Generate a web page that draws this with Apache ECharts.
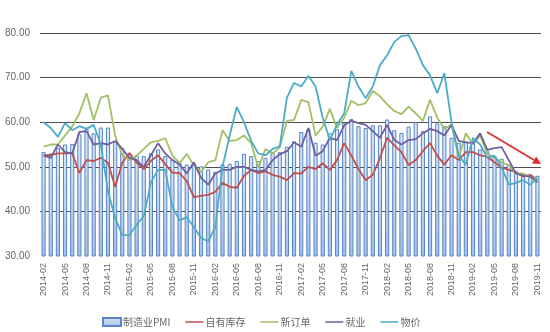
<!DOCTYPE html>
<html>
<head>
<meta charset="utf-8">
<script src="https://cdn.jsdelivr.net/npm/echarts@6/dist/echarts.min.js"></script>
<style>
html,body{margin:0;padding:0;background:#fff;}
#c{width:550px;height:332px;}
</style>
</head>
<body>
<div id="c"></div>
<script>
var months = [
 '2014-02','2014-03','2014-04','2014-05','2014-06','2014-07','2014-08','2014-09','2014-10','2014-11','2014-12',
 '2015-01','2015-02','2015-03','2015-04','2015-05','2015-06','2015-07','2015-08','2015-09','2015-10','2015-11','2015-12',
 '2016-01','2016-02','2016-03','2016-04','2016-05','2016-06','2016-07','2016-08','2016-09','2016-10','2016-11','2016-12',
 '2017-01','2017-02','2017-03','2017-04','2017-05','2017-06','2017-07','2017-08','2017-09','2017-10','2017-11','2017-12',
 '2018-01','2018-02','2018-03','2018-04','2018-05','2018-06','2018-07','2018-08','2018-09','2018-10','2018-11','2018-12',
 '2019-01','2019-02','2019-03','2019-04','2019-05','2019-06','2019-07','2019-08','2019-09','2019-10','2019-11'
];

var pmi = [
 53.3,53.0,54.2,55.0,55.1,57.3,58.5,57.5,58.8,58.8,55.7,
 54.2,52.9,52.6,52.4,53.1,53.9,52.4,51.6,50.9,50.5,50.7,50.1,
 49.4,48.9,50.5,50.7,51.3,52.9,52.4,51.3,52.0,53.1,53.3,54.5,
 55.7,57.8,58.4,55.4,55.0,57.5,58.4,59.9,60.7,59.1,58.7,59.3,
 59.3,60.6,58.2,57.6,59.0,60.0,58.0,61.3,59.7,59.1,56.5,55.4,
 55.7,55.4,53.9,53.5,52.4,51.8,50.5,49.0,48.5,48.2,48.0
];

var inventory = [
 52.6,52.6,53.0,53.0,53.0,48.6,51.5,51.3,52.0,50.9,45.5,
 50.9,53.1,50.9,49.5,51.3,52.6,50.6,48.7,48.6,46.8,43.2,43.5,
 43.7,44.4,46.4,45.5,45.3,48.0,49.3,48.6,49.0,48.2,47.8,47.0,
 48.6,48.5,50.0,49.5,50.8,49.3,51.5,55.3,52.5,49.5,47.0,48.2,
 52.0,56.5,54.8,53.3,50.4,51.5,53.5,55.3,52.5,50.5,52.6,51.5,
 53.3,53.3,52.6,52.2,51.0,49.8,49.3,48.8,47.8,48.2,47.0
];

var newOrders = [
 54.5,55.0,55.0,57.0,59.0,62.0,66.5,60.5,65.5,66.0,57.0,
 52.6,51.5,52.5,54.0,55.5,55.8,56.4,52.5,50.8,52.9,50.3,48.8,
 51.0,51.5,58.2,55.8,56.0,57.0,55.3,49.8,54.0,53.0,54.3,60.3,
 60.5,65.0,64.5,57.0,59.0,63.0,58.7,61.0,64.8,63.8,64.3,67.0,
 65.8,64.0,62.5,61.8,63.5,62.0,60.3,65.0,61.0,58.5,59.5,52.0,
 57.5,55.0,57.0,53.0,52.0,51.0,50.4,48.6,48.5,47.7,47.0
];

var employment = [
 52.5,52.0,55.0,53.3,53.0,57.8,58.0,55.0,55.3,55.0,55.8,
 54.0,52.0,51.5,50.0,52.6,55.3,53.0,51.5,50.5,48.5,51.0,47.5,
 46.0,48.5,49.3,49.3,50.0,50.0,49.3,49.0,49.3,51.5,52.8,53.5,
 55.5,54.5,58.7,52.5,53.5,56.5,56.0,59.3,60.3,59.8,59.4,58.0,
 56.5,59.4,56.0,55.0,56.0,56.2,57.5,58.5,58.0,57.0,59.4,55.8,
 55.5,55.3,57.5,53.8,54.2,54.4,51.5,48.5,48.0,47.8,46.5
];

var prices = [
 60.0,58.7,56.7,59.8,58.2,59.1,58.5,59.4,55.0,44.5,38.5,
 34.7,34.7,37.0,39.0,46.5,49.3,49.3,41.0,38.0,38.7,36.5,34.0,
 33.3,36.5,50.0,57.0,63.4,60.0,55.8,53.0,52.6,54.0,54.6,65.5,
 68.8,68.0,70.4,68.0,61.0,56.0,59.5,62.0,71.5,68.0,65.4,68.0,
 72.8,75.0,78.0,79.3,79.5,76.5,72.8,70.5,66.5,71.0,60.0,52.5,
 50.5,56.5,55.0,52.0,52.5,49.8,46.0,46.4,47.0,46.0,47.5
];

var yTicks = [30, 40, 50, 60, 70, 80];

var chart = echarts.init(document.getElementById('c'), null, {renderer: 'canvas'});

var lineIcon = 'path://M0,0 L0,0 Z M0,3.3 L20,3.3 L20,4.7 L0,4.7 Z M0,8 L0,8 Z';

function lineSeries(name, data, color) {
  return {
    name: name, type: 'line', data: data, symbol: 'none',
    lineStyle: {color: color, width: 1.8},
    itemStyle: {color: color},
    z: 3
  };
}

var option = {
  animation: false,
  backgroundColor: '#ffffff',
  textStyle: {fontFamily: '"Noto Sans CJK SC", "Noto Sans", sans-serif'},
  grid: {left: 40, right: 9, top: 33, bottom: 76, containLabel: false},
  xAxis: {
    type: 'category',
    data: months,
    boundaryGap: true,
    axisLine: {show: false},
    axisTick: {show: false},
    axisLabel: {
      interval: 2, rotate: 90, fontSize: 9, color: '#666666', margin: 7,
      fontFamily: '"Liberation Sans", Arial, sans-serif'
    },
    splitLine: {show: false}
  },
  yAxis: {
    type: 'value',
    min: yTicks[0], max: yTicks[yTicks.length - 1], interval: 10,
    axisLine: {show: false},
    axisTick: {show: false},
    axisLabel: {
      fontSize: 10, color: '#666666', margin: 10,
      fontFamily: '"Liberation Sans", Arial, sans-serif',
      formatter: function (v) { return v.toFixed(2); }
    },
    splitLine: {show: true, showMinLine: false, lineStyle: {color: '#4d4d4d', width: 1}}
  },
  legend: {
    left: 97, top: 312,
    itemWidth: 18, itemHeight: 8, itemGap: 15,
    textStyle: {fontSize: 10, color: '#666666', padding: [0, 0, 0, -3]},
    data: [
      {name: '制造业PMI', icon: 'rect'},
      {name: '自有库存', icon: lineIcon},
      {name: '新订单', icon: lineIcon},
      {name: '就业', icon: lineIcon},
      {name: '物价', icon: lineIcon}
    ]
  },
  series: [
    {
      name: '制造业PMI', type: 'bar', data: pmi,
      barCategoryGap: '42%',
      itemStyle: {
        color: new echarts.graphic.LinearGradient(0, 0, 0, 1, [
          {offset: 0, color: '#dce7f7'},
          {offset: 1, color: '#a6c0e8'}
        ]),
        borderColor: '#5585c8', borderWidth: 1
      },
      z: 2
    },
    lineSeries('自有库存', inventory, '#c0504d'),
    lineSeries('新订单', newOrders, '#a3bf63'),
    lineSeries('就业', employment, '#6f5f9f'),
    lineSeries('物价', prices, '#4bacc6')
  ],
  graphic: [
    {
      type: 'line', z: 10,
      shape: {x1: 487, y1: 132, x2: 534, y2: 160},
      style: {stroke: '#e02b2b', lineWidth: 1.6}
    },
    {
      type: 'polygon', z: 10,
      shape: {points: [[541, 164], [532, 163.4], [536.2, 156.4]]},
      style: {fill: '#e02b2b'}
    }
  ]
};
chart.setOption(option);
</script>
</body>
</html>
